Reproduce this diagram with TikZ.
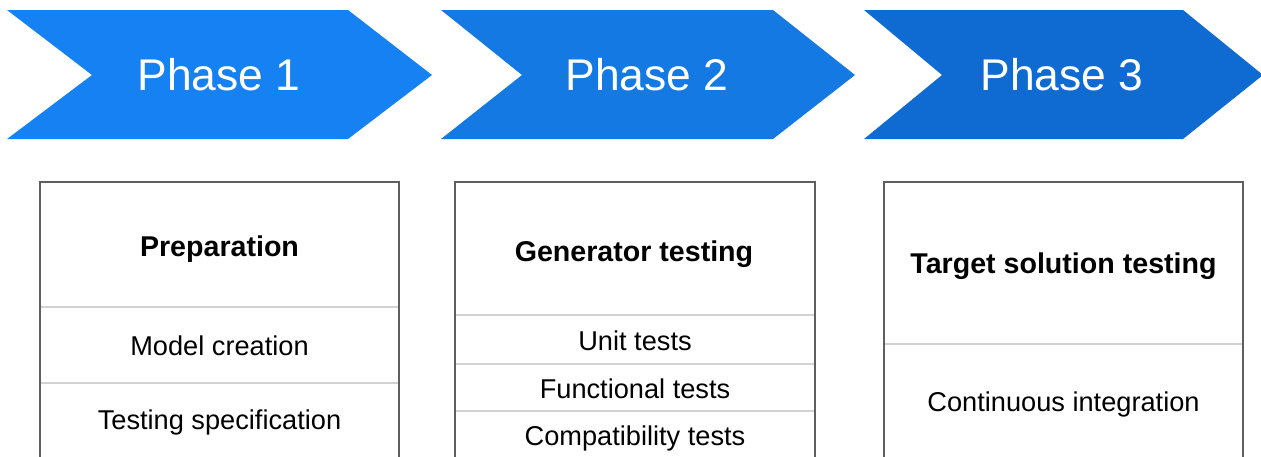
\documentclass[tikz,border=0pt]{standalone}
\usepackage{fontspec}
\setmainfont{Liberation Sans}
\definecolor{phaseA}{HTML}{1681F2}
\definecolor{phaseB}{HTML}{1479E3}
\definecolor{phaseC}{HTML}{0F6BD2}
\definecolor{frame}{HTML}{5E5E5E}
\definecolor{rule}{HTML}{D2D2D2}
\begin{document}
\begin{tikzpicture}[x=0.5pt,y=-0.5pt,
  phasetext/.style={text=white,font=\fontsize{22.2}{26}\selectfont,inner sep=0pt},
  headtext/.style={anchor=base,font=\bfseries\fontsize{14.3}{17}\selectfont,inner sep=0pt},
  itemtext/.style={anchor=base,font=\fontsize{13.6}{16}\selectfont,inner sep=0pt},
  column/.style={draw=frame,line width=0.7pt},
  divider/.style={draw=rule,line width=0.6pt}]
\useasboundingbox (0,0) rectangle (1261,456);
\clip (0,0) rectangle (1261,456);

% phase chevrons
\fill[phaseA] (7,10) -- (348,10) -- (432,75) -- (348,139) -- (7,139) -- (92,75) -- cycle;
\fill[phaseB] (441,10) -- (773,10) -- (855,75) -- (773,139) -- (441,139) -- (522,75) -- cycle;
\fill[phaseC] (864,10) -- (1183,10) -- (1263,75) -- (1183,139) -- (864,139) -- (942,75) -- cycle;
\node[phasetext] (p1) at (219,75) {Phase 1};
\node[phasetext] (p2) at (647,75) {Phase 2};
\node[phasetext] (p3) at (1062,75) {Phase 3};

% column 1: preparation
\draw[divider] (40,307) -- (399,307);
\draw[divider] (40,383) -- (399,383);
\draw[column] (40,470) -- (40,182) -- (399,182) -- (399,470);
\node[headtext] (h1) at (219.5,256) {Preparation};
\node[itemtext] (m1) at (219.5,355) {Model creation};
\node[itemtext] (t1) at (219.5,429) {Testing specification};

% column 2: generator testing
\draw[divider] (455,315) -- (815,315);
\draw[divider] (455,364) -- (815,364);
\draw[divider] (455,411) -- (815,411);
\draw[column] (455,470) -- (455,182) -- (815,182) -- (815,470);
\node[headtext] (h2) at (634,261) {Generator testing};
\node[itemtext] (u2) at (635,350) {Unit tests};
\node[itemtext] (f2) at (635,398) {Functional tests};
\node[itemtext] (c2) at (635,445) {Compatibility tests};

% column 3: target solution testing
\draw[divider] (884,344) -- (1243,344);
\draw[column] (884,470) -- (884,182) -- (1243,182) -- (1243,470);
\node[headtext] (h3) at (1063.5,273) {Target solution testing};
\node[itemtext] (ci3) at (1063.5,411) {Continuous integration};
\end{tikzpicture}
\end{document}
